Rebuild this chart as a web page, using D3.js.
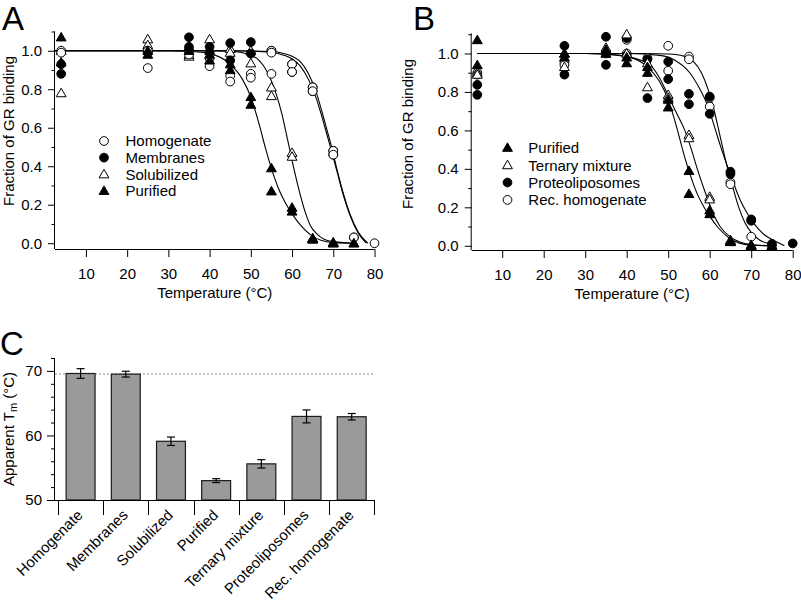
<!DOCTYPE html>
<html>
<head>
<meta charset="utf-8">
<script src="https://cdn.jsdelivr.net/npm/d3@7"></script>
<style>
  html, body { margin: 0; padding: 0; background: #fff; }
  svg { display: block; font-family: "Liberation Sans", Arial, sans-serif; }
</style>
</head>
<body>
<svg id="chart" width="801" height="601"></svg>
<script>
// ---------------- DATA ----------------
// Panel A scatter data: [temperature °C, fraction of GR binding]
const homogenateA = [[4,1.0],[4,0.99],[25,1.0],[25,0.91],[35,1.0],[35,0.98],[40,0.96],[40,0.92],[45,0.87],[45,0.84],[50,0.88],[50,0.86],[55,1.0],[55,0.99],[55,0.88],[60,0.93],[60,0.89],[65,0.81],[65,0.79],[70,0.48],[70,0.46],[75,0.03],[80,0.0]];
const membranesA = [[4,0.93],[4,0.88],[25,1.0],[25,0.99],[35,1.07],[35,1.02],[40,1.02],[40,0.99],[45,1.04],[45,0.95],[50,1.045],[50,0.985],[55,1.0],[60,0.93],[60,0.89],[65,0.81],[65,0.79],[70,0.48],[70,0.46],[75,0.03]];
const solubilizedA = [[4,0.78],[4,1.0],[25,1.06],[25,1.03],[35,0.97],[35,0.98],[40,1.06],[40,1.0],[45,1.01],[45,0.99],[50,1.0],[50,0.935],[55,0.81],[55,0.765],[60,0.47],[60,0.45],[65,0.02],[65,0.025],[70,0.0],[75,0.0]];
const purified = [[4,1.07],[4,0.94],[25,1.0],[25,0.98],[35,1.02],[35,1.0],[40,0.98],[40,0.95],[45,0.93],[45,0.9],[50,0.76],[50,0.72],[55,0.39],[55,0.27],[60,0.185],[60,0.165],[65,0.025],[65,0.02],[70,0.0],[70,0.005],[75,0.0]];

// Panel B scatter data
const ternaryB = [[4,0.9],[4,0.89],[25,0.93],[25,1.0],[35,1.03],[35,1.0],[40,1.1],[40,1.0],[45,0.825],[45,0.95],[50,0.785],[50,0.77],[55,0.577],[55,0.56],[60,0.255],[60,0.242],[65,0.02],[65,0.03],[70,0.0],[75,0.0]];
const proteoliposomesB = [[4,0.837],[4,0.785],[25,1.04],[25,0.89],[35,1.087],[35,0.941],[40,1.08],[40,0.99],[45,0.768],[45,0.97],[50,0.958],[50,0.867],[55,0.79],[55,0.736],[60,0.776],[60,0.686],[65,0.385],[65,0.373],[70,0.137],[70,0.13],[75,0.01],[80,0.012]];
const recHomogenateB = [[4,0.9],[4,0.89],[25,0.953],[25,0.94],[35,1.0],[40,1.071],[40,1.0],[45,0.976],[50,1.04],[50,0.91],[55,0.984],[55,0.97],[60,0.724],[60,0.77],[65,0.33],[65,0.32],[70,0.047],[75,0.0]];

// Fitted curves, points: [temperature, fraction]
const fitHomogenate = [[2.5,1],[45,1],[55,0.996],[58,0.986],[60,0.972],[62,0.943],[64,0.88],[66,0.775],[68,0.625],[69.6,0.5],[71,0.375],[72.5,0.255],[74,0.155],[76,0.06],[78.4,0.0]];
const fitMembranes = [[2.5,1],[45,1],[55,0.992],[58,0.977],[60,0.958],[62,0.92],[64,0.85],[66,0.745],[68,0.6],[69.5,0.485],[71,0.365],[72.5,0.245],[74,0.148],[76,0.055],[78,0.0]];
const fitSolubilized = [[2.5,1],[40,1],[45,0.997],[50,0.977],[52,0.95],[54,0.89],[56,0.785],[57.5,0.675],[59,0.53],[60,0.43],[61.3,0.31],[63.3,0.155],[64.5,0.09],[66.2,0.045],[69.5,0.01],[75,0.0]];
const fitPurified = [[2.5,1],[30,1],[35,0.997],[40,0.985],[45,0.93],[48,0.85],[50,0.76],[52,0.62],[53.6,0.49],[55.2,0.375],[57,0.27],[58.5,0.205],[60.1,0.15],[62,0.095],[64.6,0.042],[67,0.015],[70,0.003],[75,0.0]];
const fitTernary = [[4,1],[30,1],[38,0.99],[45,0.95],[48,0.87],[50,0.78],[52,0.69],[54,0.6],[55.6,0.5],[57,0.4],[59.3,0.255],[61,0.16],[62.5,0.1],[65,0.045],[67.3,0.02],[70,0.007],[75,0]];
const fitProteoliposomes = [[4,1],[40,1],[48,0.99],[52,0.96],[55.2,0.9],[57.5,0.82],[59.3,0.74],[61,0.63],[62.5,0.525],[64,0.43],[65.5,0.34],[67.2,0.245],[69,0.17],[70.5,0.12],[73,0.06],[75.3,0.03],[78,0.0]];
const fitRecHomogenate = [[4,1],[45,1],[50,0.997],[54,0.985],[56,0.96],[58,0.9],[59.5,0.82],[61,0.71],[62.5,0.57],[64,0.43],[65.5,0.31],[67,0.2],[68.5,0.12],[70,0.07],[72,0.03],[74.5,0.01],[76,0.0]];

// Panel C
const tmCategories = ["Homogenate","Membranes","Solubilized","Purified","Ternary mixture","Proteoliposomes","Rec. homogenate"];
const tmValues = [69.6, 69.5, 59.1, 53.0, 55.6, 62.95, 62.9];
const tmErrors = [0.75, 0.45, 0.65, 0.3, 0.65, 1.0, 0.5];

const tempTicks = [10,20,30,40,50,60,70,80];
const fracTicks = [0,0.2,0.4,0.6,0.8,1.0];
const fracMinorTicks = [0.1,0.3,0.5,0.7,0.9,1.1];
const tmTicks = [50,60,70];
const tmMinorTicks = [52,54,56,58,62,64,66,68,72];

// ---------------- DRAW ----------------
const svg = d3.select("#chart");
const FS = 15;

function symbolPath(type, size) {
  return d3.symbol().type(type).size(size)();
}
const circlePath = symbolPath(d3.symbolCircle, 60);
const triPath = symbolPath(d3.symbolTriangle, 42);

function drawMarker(g, kind, x, y) {
  const p = kind.startsWith("circle") ? circlePath : triPath;
  const filled = kind.endsWith("Filled");
  const dy = kind.startsWith("tri") ? 0.8 : 0;
  g.append("path").attr("d", p)
    .attr("transform", `translate(${x},${y + dy})`)
    .attr("fill", filled ? "#000" : "#fff")
    .attr("stroke", "#000").attr("stroke-width", 1);
}

function panel(opts) {
  const { x, y, series, curves, legend, legendPos, yLabelX } = opts;
  const g = svg.append("g");
  const xAxis = d3.axisBottom(x).tickValues(tempTicks).tickSize(8).tickPadding(11).tickFormat(d3.format("d"));
  const yAxis = d3.axisLeft(y).tickValues(fracTicks).tickSize(7).tickPadding(6).tickFormat(d3.format(".1f"));
  const yMinor = d3.axisLeft(y).tickValues(fracMinorTicks).tickSize(3.5).tickFormat("");
  const y0 = y.range()[0], x0 = x.range()[0];
  const gx = g.append("g").attr("transform", `translate(0,${y0})`).call(xAxis);
  const gy = g.append("g").attr("transform", `translate(${x0},0)`).call(yAxis);
  const gym = g.append("g").attr("transform", `translate(${x0},0)`).call(yMinor);
  [gx, gy, gym].forEach(a => {
    a.selectAll("path.domain").attr("stroke", "#000").attr("stroke-width", 1);
    a.selectAll("line").attr("stroke", "#000").attr("stroke-width", 1);
    a.selectAll("text").attr("font-size", FS).attr("fill", "#000").attr("font-family", "Liberation Sans, Arial, sans-serif");
  });
  gx.select("path.domain").attr("d", `M${x.range()[0]},0.5H${x.range()[1]}`);
  gy.select("path.domain").attr("d", `M-0.5,${y.range()[0]}V${y.range()[1]}`);
  gym.select("path.domain").remove();

  const line = d3.line().x(d => x(d[0])).y(d => y(d[1])).curve(d3.curveMonotoneX);
  curves.forEach(c => {
    g.append("path").datum(c).attr("d", line).attr("fill", "none")
      .attr("stroke", "#000").attr("stroke-width", 1.1);
  });
  series.forEach(s => {
    const sg = g.append("g");
    s.data.forEach(d => drawMarker(sg, s.kind, x(d[0]), y(d[1])));
  });
  legend.forEach((l, i) => {
    const ly = legendPos.y + i * legendPos.dy;
    drawMarker(g, l.kind, legendPos.mx, ly);
    g.append("text").attr("x", legendPos.tx).attr("y", ly).attr("dy", "0.36em")
      .attr("font-size", FS).text(l.label);
  });
  const midX = (x.range()[0] + x.range()[1]) / 2;
  g.append("text").attr("x", midX).attr("y", y0 + 48.5).attr("text-anchor", "middle")
    .attr("font-size", FS).text("Temperature (°C)");
  g.append("text").attr("transform", `translate(${yLabelX},${opts.yLabelMid}) rotate(-90)`)
    .attr("text-anchor", "middle").attr("font-size", FS).text("Fraction of GR binding");
}

// Panel A
const xA = d3.scaleLinear().domain([2.5, 80]).range([55, 374.5]);
const yA = d3.scaleLinear().domain([-0.03, 1.1]).range([249, 31.5]);
panel({
  x: xA, y: yA, yLabelX: 13.5, yLabelMid: 131,
  curves: [fitHomogenate, fitMembranes, fitSolubilized, fitPurified],
  series: [
    { kind: "triOpen", data: solubilizedA },
    { kind: "circleFilled", data: membranesA },
    { kind: "circleOpen", data: homogenateA },
    { kind: "triFilled", data: purified }
  ],
  legend: [
    { kind: "circleOpen", label: "Homogenate" },
    { kind: "circleFilled", label: "Membranes" },
    { kind: "triOpen", label: "Solubilized" },
    { kind: "triFilled", label: "Purified" }
  ],
  legendPos: { mx: 104, tx: 125.5, y: 141, dy: 16.6 }
});

// Panel B
const xB = d3.scaleLinear().domain([2.65, 80]).range([471.7, 792.7]);
const yB = d3.scaleLinear().domain([-0.022, 1.105]).range([250, 33.3]);
panel({
  x: xB, y: yB, yLabelX: 413, yLabelMid: 134,
  curves: [fitPurified.map(d => [Math.max(d[0], 4), d[1]]), fitTernary, fitProteoliposomes, fitRecHomogenate],
  series: [
    { kind: "circleOpen", data: recHomogenateB },
    { kind: "circleFilled", data: proteoliposomesB },
    { kind: "triOpen", data: ternaryB },
    { kind: "triFilled", data: purified }
  ],
  legend: [
    { kind: "triFilled", label: "Purified" },
    { kind: "triOpen", label: "Ternary mixture" },
    { kind: "circleFilled", label: "Proteoliposomes" },
    { kind: "circleOpen", label: "Rec. homogenate" }
  ],
  legendPos: { mx: 507.5, tx: 528.3, y: 147.7, dy: 17.4 }
});

// Panel C
(function () {
  const g = svg.append("g");
  const xC = d3.scaleBand().domain(tmCategories).range([58, 374.3]).paddingInner(0.36).paddingOuter(0.18);
  const yC = d3.scaleLinear().domain([50, 72]).range([500, 358]);
  const step = xC.step();

  g.append("line").attr("x1", 55).attr("x2", 374.3)
    .attr("y1", yC(tmValues[0]) + 0.5).attr("y2", yC(tmValues[0]) + 0.5)
    .attr("stroke", "#8a8a8a").attr("stroke-width", 1).attr("stroke-dasharray", "2,2");

  tmCategories.forEach((c, i) => {
    g.append("rect").attr("x", xC(c)).attr("y", yC(tmValues[i]))
      .attr("width", xC.bandwidth()).attr("height", yC(50) - yC(tmValues[i]))
      .attr("fill", "#9a9a9a").attr("stroke", "#1a1a1a").attr("stroke-width", 1.2);
    const cx = xC(c) + xC.bandwidth() / 2;
    const top = yC(tmValues[i] + tmErrors[i]), bot = yC(tmValues[i] - tmErrors[i]);
    g.append("line").attr("x1", cx).attr("x2", cx).attr("y1", top).attr("y2", bot).attr("stroke", "#000").attr("stroke-width", 1.2);
    [top, bot].forEach(yy => g.append("line").attr("x1", cx - 4).attr("x2", cx + 4).attr("y1", yy).attr("y2", yy).attr("stroke", "#000").attr("stroke-width", 1.2));
  });

  const yAxis = d3.axisLeft(yC).tickValues(tmTicks).tickSize(8).tickPadding(5).tickFormat(d3.format("d"));
  const yMinor = d3.axisLeft(yC).tickValues(tmMinorTicks).tickSize(4).tickFormat("");
  const gy = g.append("g").attr("transform", "translate(55,0)").call(yAxis);
  const gym = g.append("g").attr("transform", "translate(55,0)").call(yMinor);
  gym.select("path.domain").remove();
  gy.select("path.domain").attr("d", `M-0.5,500V358`).attr("stroke", "#000");
  [gy, gym].forEach(a => {
    a.selectAll("line").attr("stroke", "#000");
    a.selectAll("text").attr("font-size", FS).attr("fill", "#000").attr("font-family", "Liberation Sans, Arial, sans-serif");
  });

  g.append("line").attr("x1", 55).attr("x2", 374.8).attr("y1", 500.5).attr("y2", 500.5).attr("stroke", "#000");
  const bounds = tmCategories.map(c => xC(c) + xC.bandwidth() / 2 - step / 2).concat([xC(tmCategories[6]) + xC.bandwidth() / 2 + step / 2]);
  bounds.forEach(b => g.append("line").attr("x1", Math.round(b) + 0.5).attr("x2", Math.round(b) + 0.5)
    .attr("y1", 500).attr("y2", 515).attr("stroke", "#000"));

  tmCategories.forEach(c => {
    const cx = xC(c) + xC.bandwidth() / 2;
    g.append("text").attr("transform", `translate(${cx + 3},${516}) rotate(-45)`)
      .attr("text-anchor", "end").attr("font-size", FS).text(c);
  });

  const t = g.append("text").attr("transform", "translate(14,429) rotate(-90)")
    .attr("text-anchor", "middle").attr("font-size", FS);
  t.append("tspan").text("Apparent T");
  t.append("tspan").attr("font-size", 11).attr("dy", 3).text("m");
  t.append("tspan").attr("dy", -3).text(" (°C)");
})();

// Panel letters
[["A", 2, 30], ["B", 413, 30], ["C", 0, 355]].forEach(([s, x, y]) => {
  svg.append("text").attr("x", x).attr("y", y).attr("font-size", 33).text(s);
});
</script>
</body>
</html>
